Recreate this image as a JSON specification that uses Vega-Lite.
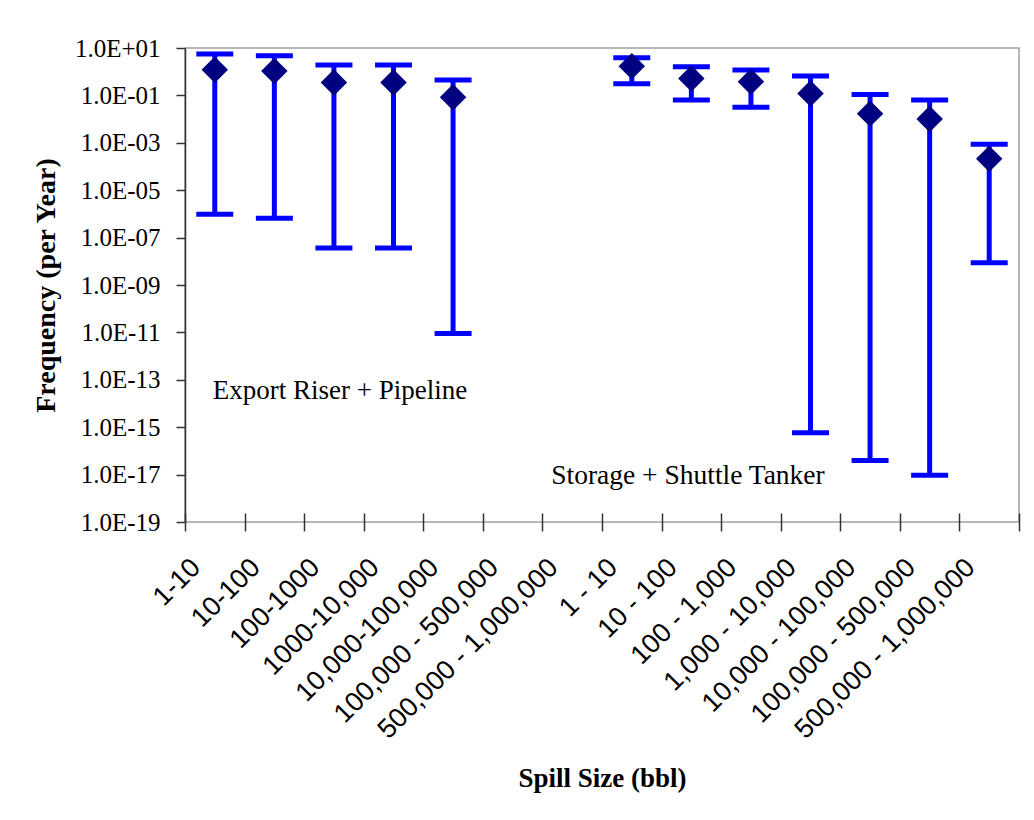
{
  "$schema": "https://vega.github.io/schema/vega-lite/v6.json",
  "width": 834,
  "height": 474,
  "autosize": {"type": "none"},
  "padding": {"left": 185, "top": 48, "right": 15, "bottom": 298},
  "background": "white",
  "config": {
    "view": {"stroke": "#a0a0a0", "strokeWidth": 1.5},
    "axis": {"grid": false}
  },
  "datasets": {
    "bars": [
      {"cat": "01 1-10", "low": 9.6e-7, "mid": 1.2, "high": 5.6},
      {"cat": "02 10-100", "low": 6.5e-7, "mid": 1.07, "high": 4.7},
      {"cat": "03 100-1000", "low": 3.6e-8, "mid": 0.35, "high": 1.9},
      {"cat": "04 1000-10,000", "low": 3.6e-8, "mid": 0.35, "high": 1.9},
      {"cat": "05 10,000-100,000", "low": 9e-12, "mid": 0.083, "high": 0.45},
      {"cat": "08 1 - 10", "low": 0.31, "mid": 1.7, "high": 3.9},
      {"cat": "09 10 - 100", "low": 0.064, "mid": 0.52, "high": 1.6},
      {"cat": "10 100 - 1,000", "low": 0.032, "mid": 0.38, "high": 1.17},
      {"cat": "11 1,000 - 10,000", "low": 5.9e-16, "mid": 0.12, "high": 0.66},
      {"cat": "12 10,000 - 100,000", "low": 3.9e-17, "mid": 0.017, "high": 0.11},
      {"cat": "13 100,000 - 500,000", "low": 9.3e-18, "mid": 0.01, "high": 0.064},
      {"cat": "14 500,000 - 1,000,000", "low": 8.7e-9, "mid": 0.00021, "high": 0.00087}
    ],
    "note1": [
      {"cat": "01 1-10", "y": 1.55e-14, "label": "Export Riser + Pipeline"}
    ],
    "note2": [
      {"cat": "07 500,000 - 1,000,000", "y": 4e-18, "label": "Storage + Shuttle Tanker"}
    ]
  },
  "encoding": {
    "x": {
      "field": "cat",
      "type": "nominal",
      "title": "Spill Size (bbl)",
      "scale": {
        "domain": ["01 1-10", "02 10-100", "03 100-1000", "04 1000-10,000", "05 10,000-100,000", "06 100,000 - 500,000", "07 500,000 - 1,000,000", "08 1 - 10", "09 10 - 100", "10 100 - 1,000", "11 1,000 - 10,000", "12 10,000 - 100,000", "13 100,000 - 500,000", "14 500,000 - 1,000,000"],
        "paddingInner": 0,
        "paddingOuter": 0
      },
      "axis": {
        "labelExpr": "substring(datum.label, 3)",
        "domain": false,
        "offset": -9,
        "tickSize": 18,
        "tickColor": "#333333",
        "tickWidth": 1.5,
        "tickBand": "extent",
        "labelAngle": -45,
        "labelAlign": "right",
        "labelBaseline": "middle",
        "labelPadding": 32,
        "labelOffset": -19,
        "labelLimit": 0,
        "labelFont": "Liberation Sans",
        "labelFontSize": 27,
        "labelColor": "black",
        "labelOverlap": false,
        "labelBound": false,
        "titleFont": "Liberation Serif",
        "titleFontSize": 27,
        "titleFontWeight": "bold",
        "titleColor": "black",
        "titlePadding": 52
      }
    }
  },
  "layer": [
    {
      "data": {"name": "bars"},
      "mark": {"type": "rule", "color": "#0000FF", "strokeWidth": 5},
      "encoding": {
        "y": {
          "field": "low",
          "type": "quantitative",
          "title": "Frequency (per Year)",
          "scale": {"type": "log", "domain": [1e-19, 10], "nice": false},
          "axis": {
            "values": [10, 0.1, 0.001, 1e-5, 1e-7, 1e-9, 1e-11, 1e-13, 1e-15, 1e-17, 1e-19],
            "labelExpr": "'1.0E' + (round(log(datum.value)/LN10) >= 0 ? '+' : '-') + (abs(round(log(datum.value)/LN10)) < 10 ? '0' : '') + abs(round(log(datum.value)/LN10))",
            "domainColor": "#333333",
            "domainWidth": 1.5,
            "tickColor": "#333333",
            "tickWidth": 1.5,
            "tickSize": 9,
            "labelPadding": 16,
            "labelFont": "Liberation Serif",
            "labelFontSize": 25,
            "labelColor": "black",
            "labelOverlap": false,
            "labelBound": false,
            "titleFont": "Liberation Serif",
            "titleFontSize": 28,
            "titleFontWeight": "bold",
            "titleColor": "black",
            "titlePadding": 14
          }
        },
        "y2": {"field": "high"}
      }
    },
    {
      "data": {"name": "bars"},
      "mark": {"type": "tick", "color": "#0000FF", "size": 37, "thickness": 5, "opacity": 1},
      "encoding": {"y": {"field": "low", "type": "quantitative"}}
    },
    {
      "data": {"name": "bars"},
      "mark": {"type": "tick", "color": "#0000FF", "size": 37, "thickness": 5, "opacity": 1},
      "encoding": {"y": {"field": "high", "type": "quantitative"}}
    },
    {
      "data": {"name": "bars"},
      "mark": {"type": "point", "shape": "diamond", "filled": true, "color": "#000080", "size": 700, "opacity": 1},
      "encoding": {"y": {"field": "mid", "type": "quantitative"}}
    },
    {
      "data": {"name": "note1"},
      "mark": {"type": "text", "align": "left", "baseline": "alphabetic", "dx": -2, "font": "Liberation Serif", "fontSize": 27, "color": "black"},
      "encoding": {
        "y": {"field": "y", "type": "quantitative"},
        "text": {"field": "label"}
      }
    },
    {
      "data": {"name": "note2"},
      "mark": {"type": "text", "align": "left", "baseline": "alphabetic", "dx": -21, "font": "Liberation Serif", "fontSize": 27.5, "color": "black"},
      "encoding": {
        "y": {"field": "y", "type": "quantitative"},
        "text": {"field": "label"}
      }
    },
    {
      "data": {"values": [{}]},
      "mark": {"type": "rule", "color": "#333333", "strokeWidth": 1.5},
      "encoding": {"y": {"datum": 1e-19}}
    }
  ]
}
